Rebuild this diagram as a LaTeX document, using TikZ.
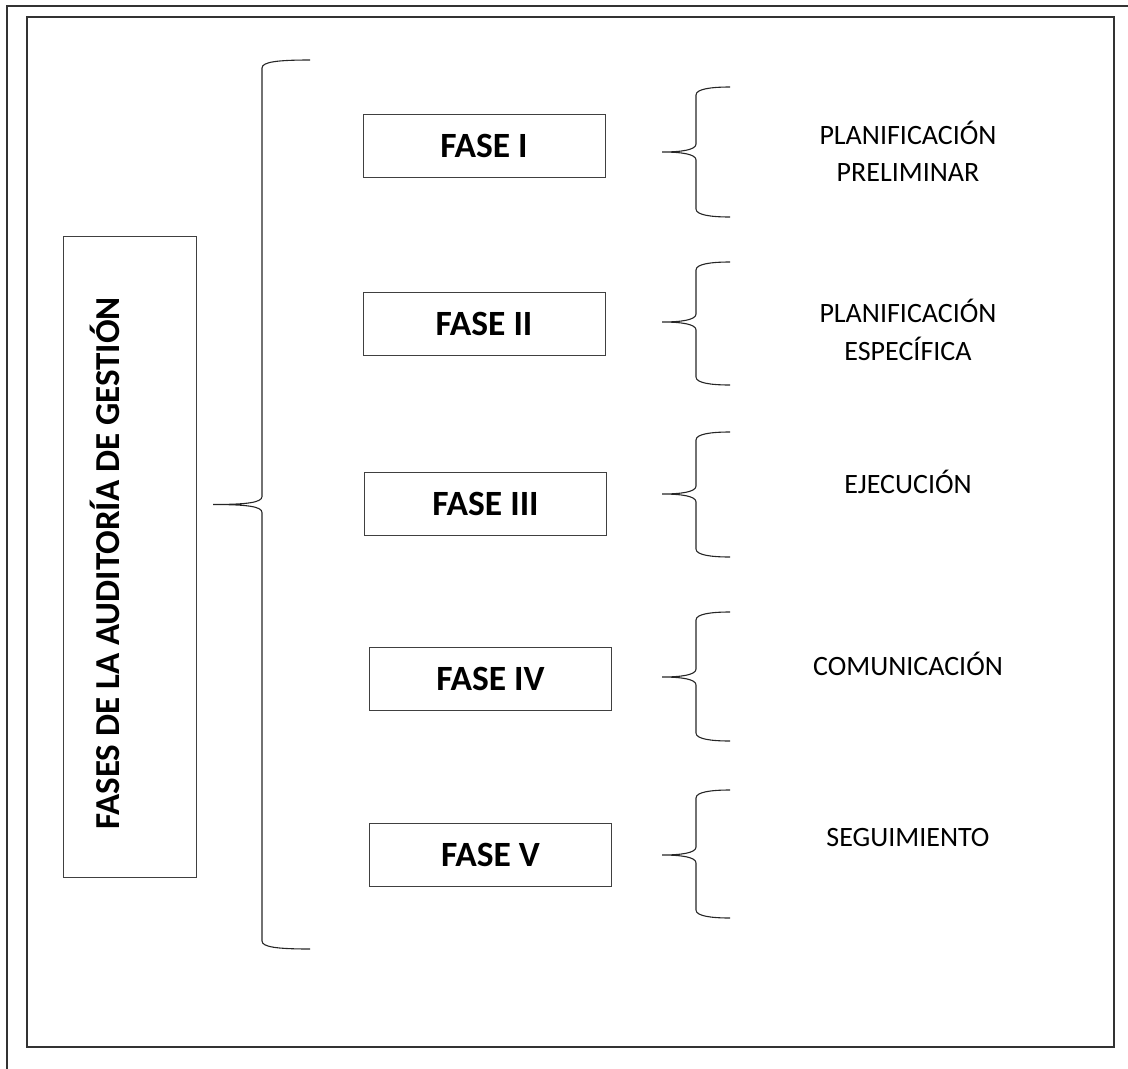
\documentclass[tikz,border=0pt]{standalone}
\usepackage{fontspec}
\setmainfont{Carlito}
\usepackage{tikz}

\tikzset{
    marco/.style={line width=1.5pt, color=black!80},
    caja/.style={draw=black!75, line width=1pt, inner sep=0pt},
    fase/.style={caja, minimum width=242pt, minimum height=63pt, font=\fontsize{35.5}{40}\selectfont\bfseries},
    etiqueta/.style={align=center, inner sep=0pt, font=\fontsize{28}{37.5}\selectfont},
    llave/.style={line width=1.1pt, color=black!85}
}

% #1 punta, #2 linea vertical, #3 extremos, #4 arriba, #5 medio, #6 abajo
\newcommand{\llave}[6]{%
    \draw[llave] (#3,#4) .. controls (#2+15,#4) and (#2,#4+2) .. (#2,#4+8)
        -- (#2,#5-8) .. controls (#2,#5-2) and (#2-15,#5) .. (#1,#5)
        .. controls (#2-15,#5) and (#2,#5+2) .. (#2,#5+8)
        -- (#2,#6-8) .. controls (#2,#6-2) and (#2+15,#6) .. (#3,#6);
}

\begin{document}
\begin{tikzpicture}[x=1pt, y=-1pt]
    \useasboundingbox (0,0) rectangle (1128,1069);
    \draw[marco] (7,1069) -- (7,6) -- (1128,6); % borde de la pagina
    \draw[marco] (27,17) rectangle (1114,1047);

    \node[caja, minimum width=133pt, minimum height=641pt] (tit) at (129.5,556.5) {};
    \node[rotate=90, anchor=base west, inner sep=0pt, font=\fontsize{35}{40}\selectfont\bfseries] (titTxt) at (119,830) {FASES DE LA AUDITORÍA DE GESTIÓN};

    \llave{213}{262}{310}{60}{504.5}{949}

    \foreach \n/\x/\y/\t in {
        1/484/145.5/I,
        2/484/324/II,
        3/485.5/504/III,
        4/490.5/678.5/IV,
        5/490.5/854.5/V}
    \node[fase] (f\n) at (\x,\y) {FASE \t};

    \foreach \a/\b/\c in {87/152/217, 262/322/385, 432/494/557, 612/677/741, 790/855/918} % llaves chicas
    {\llave{662}{696}{730}{\a}{\b}{\c}}

    \foreach \n/\y/\t in {
        1/151.5/{PLANIFICACIÓN\\PRELIMINAR},
        2/330/{PLANIFICACIÓN\\ESPECÍFICA},
        3/482/EJECUCIÓN,
        4/664/COMUNICACIÓN,
        5/838/SEGUIMIENTO}
    \node[etiqueta] (e\n) at (908,\y) {\t};
\end{tikzpicture}
\end{document}
